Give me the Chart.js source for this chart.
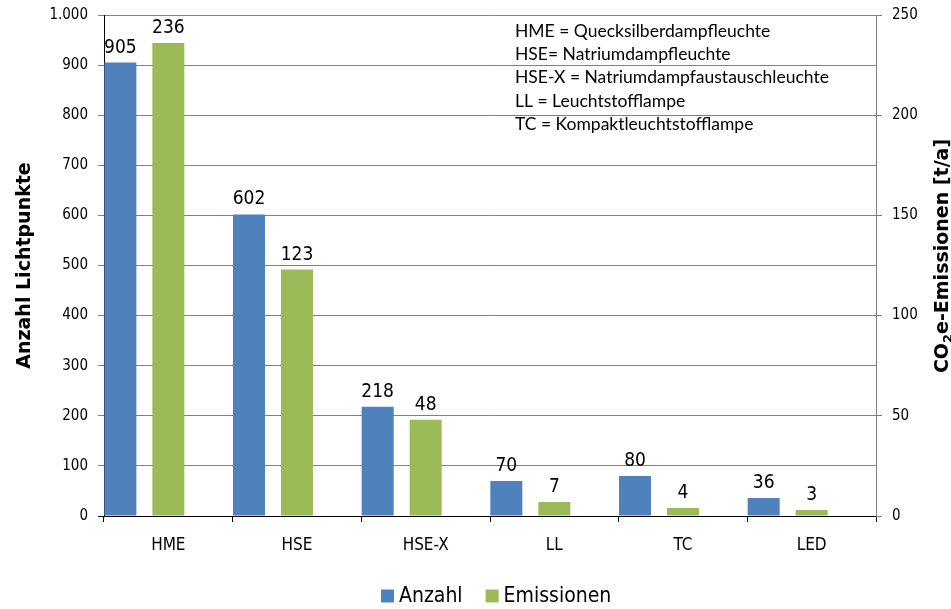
<!DOCTYPE html>
<html>
<head>
<meta charset="utf-8">
<script src="https://cdn.jsdelivr.net/npm/chart.js@4.4.1/dist/chart.umd.min.js"></script>
<style>
  html, body { margin: 0; padding: 0; background: #fff; }
  #wrap { width: 951px; height: 609px; }
</style>
</head>
<body>
<div id="wrap"><canvas id="chart" width="951" height="609"></canvas></div>
<script>
// Street lighting inventory: number of light points and CO2e emissions per lamp type
const categories = ['HME', 'HSE', 'HSE-X', 'LL', 'TC', 'LED'];
const anzahl = [905, 602, 218, 70, 80, 36];        // Anzahl Lichtpunkte (left axis)
const emissionen = [236, 123, 48, 7, 4, 3];        // CO2e-Emissionen in t/a (right axis)
const leftAxis = { min: 0, max: 1000, step: 100 };
const rightAxis = { min: 0, max: 250, step: 50 };
const seriesNames = ['Anzahl', 'Emissionen'];
const notes = [
  'HME = Quecksilberdampfleuchte',
  'HSE= Natriumdampfleuchte',
  'HSE-X = Natriumdampfaustauschleuchte',
  'LL = Leuchtstofflampe',
  'TC = Kompaktleuchtstofflampe'
];

const BLUE = '#4F81BD';
const GREEN = '#9BBB59';
const GRID = '#808080';
const SANS = "'DejaVu Sans Condensed', 'DejaVu Sans', sans-serif";
const SANS_BOLD = "'DejaVu Sans', sans-serif";

// German thousands separator: 1000 -> "1.000"
function deNum(v) {
  return String(Math.round(v)).replace(/\B(?=(\d{3})+(?!\d))/g, '.');
}

// Vertical axes: fixed width, no extra top/bottom margin for the end labels
function fixWidth(w) {
  return s => { s.width = w; s.paddingTop = 0; s.paddingBottom = 0; };
}

// Value labels, abbreviation notes, right axis title and legend
const decorations = {
  id: 'decorations',
  afterDatasetsDraw(chart) {
    const ctx = chart.ctx;
    ctx.save();

    // values above each bar
    ctx.fillStyle = '#000';
    ctx.textAlign = 'center';
    ctx.textBaseline = 'alphabetic';
    ctx.font = '19px ' + SANS;
    [0, 1].forEach(di => {
      const meta = chart.getDatasetMeta(di);
      const vals = chart.data.datasets[di].data;
      meta.data.forEach((bar, j) => {
        ctx.fillText(deNum(vals[j]), bar.x, bar.y - 10);
      });
    });

    // abbreviation notes
    ctx.textAlign = 'left';
    ctx.font = '17.5px Lato, sans-serif';
    notes.forEach((t, i) => {
      ctx.fillText(t, 515, 36.5 + i * 23.4);
    });

    // right axis title with subscript 2, reading bottom to top
    ctx.translate(942, 256);
    ctx.rotate(-Math.PI / 2);
    const big = 'bold 19px ' + SANS_BOLD;
    const small = 'bold 13px ' + SANS_BOLD;
    const parts = [['CO', big, 0], ['2', small, 4], ['e-Emissionen [t/a]', big, 0]];
    let total = 0;
    parts.forEach(p => { ctx.font = p[1]; total += ctx.measureText(p[0]).width; });
    let x = -total / 2;
    parts.forEach(p => {
      ctx.font = p[1];
      ctx.fillText(p[0], x, 6 + p[2]);
      x += ctx.measureText(p[0]).width;
    });
    ctx.restore();

    // legend
    ctx.save();
    ctx.font = '21px ' + SANS;
    ctx.textBaseline = 'middle';
    ctx.textAlign = 'left';
    let lx = 381;
    const ly = 596;
    chart.data.datasets.slice(0, 2).forEach((ds, i) => {
      ctx.fillStyle = ds.backgroundColor;
      ctx.fillRect(lx, ly - 6.5, 13, 13);
      ctx.fillStyle = '#000';
      ctx.fillText(seriesNames[i], lx + 18, ly + 1);
      lx += 18 + ctx.measureText(seriesNames[i]).width + 23;
    });
    ctx.restore();
  }
};

new Chart(document.getElementById('chart'), {
  type: 'bar',
  data: {
    labels: categories,
    datasets: [
      { label: seriesNames[0], data: anzahl, backgroundColor: BLUE, yAxisID: 'y', borderWidth: 0 },
      { label: seriesNames[1], data: emissionen, backgroundColor: GREEN, yAxisID: 'y1', borderWidth: 0 },
      // empty slot that keeps the pair left of the category centre
      { label: '', data: categories.map(() => null), backgroundColor: 'rgba(0,0,0,0)', yAxisID: 'y', borderWidth: 0 }
    ]
  },
  options: {
    responsive: false,
    animation: false,
    devicePixelRatio: 1,
    layout: { padding: { top: 15, bottom: 33, left: 0, right: 0 } },
    datasets: { bar: { categoryPercentage: 1.119, barPercentage: 0.667 } },
    plugins: {
      legend: { display: false },
      tooltip: { enabled: false }
    },
    scales: {
      x: {
        offset: true,
        grid: { offset: true, drawOnChartArea: false, tickLength: 6, color: '#000', lineWidth: 1 },
        border: { color: '#000', width: 1 },
        ticks: { color: '#000', font: { family: SANS, size: 17 }, padding: 13, maxRotation: 0 },
        afterFit(s) { s.height = 60; s.paddingLeft = 0; s.paddingRight = 0; }
      },
      y: {
        position: 'left',
        min: leftAxis.min, max: leftAxis.max,
        grid: {
          color: c => (c.tick && c.tick.value === 0 ? '#000' : GRID),
          tickLength: 6, lineWidth: 1
        },
        border: { color: '#000', width: 1 },
        ticks: {
          stepSize: leftAxis.step, color: '#000', padding: 10,
          font: { family: SANS, size: 15 },
          callback: v => deNum(v)
        },
        title: {
          display: true, text: 'Anzahl Lichtpunkte', color: '#000',
          font: { family: SANS_BOLD, size: 19, weight: 'bold' },
          padding: { top: 14, bottom: 0 }
        },
        afterFit: fixWidth(104)
      },
      y1: {
        position: 'right',
        min: rightAxis.min, max: rightAxis.max,
        grid: { drawOnChartArea: false, color: GRID, tickLength: 6, lineWidth: 1 },
        border: { color: GRID, width: 1 },
        ticks: {
          stepSize: rightAxis.step, color: '#000', padding: 10,
          font: { family: SANS, size: 15 },
          callback: v => deNum(v)
        },
        afterFit: fixWidth(75)
      }
    }
  },
  plugins: [decorations]
});
</script>
</body>
</html>
